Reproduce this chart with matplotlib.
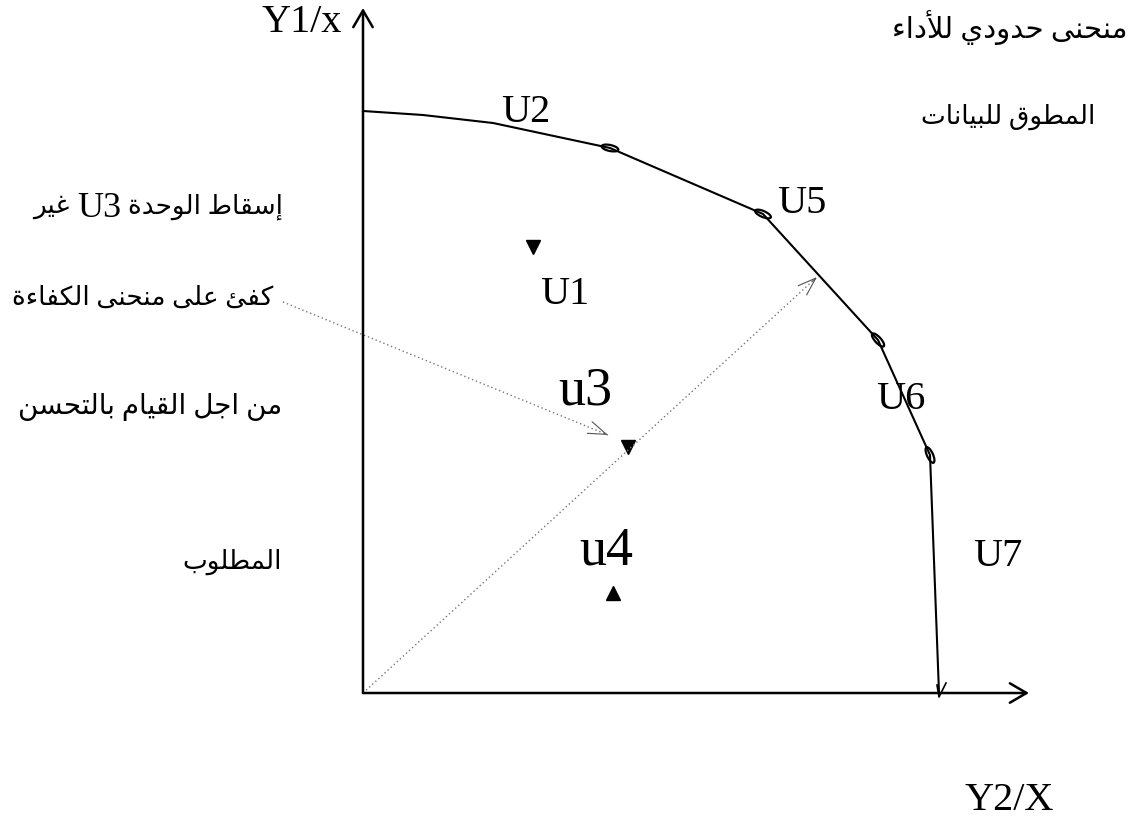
import numpy as np
import matplotlib
matplotlib.use('Agg')
import matplotlib.pyplot as plt
from matplotlib.patches import Ellipse

plt.rcParams['font.family'] = ['Liberation Serif', 'DejaVu Sans']

# ── Data (origin at the axes crossing, 1 unit = 1 pixel) ──────────────────────
frontier_x = [0, 60, 130, 247, 400, 515, 567, 576]
frontier_y = [582, 578, 570, 545, 479, 353, 238, 0]
frontier_names = ['U2', 'U5', 'U6', 'U7']

units_tri_down = {'U1': (170, 446), 'u3': (265, 246)}
units_tri_up = {'u4': (250, 100)}

ray_end = (454, 416)            # projection of u3 onto the frontier
note_start = (-80, 391)         # note arrow, from text to u3
note_end = (245, 258)

ar_lines = [
    'منحنى حدودي للأداء',
    'المطوق للبيانات',
    'إسقاط الوحدة U3 غير',
    'كفئ على منحنى الكفاءة',
    'من اجل القيام بالتحسن',
    'المطلوب',
]

# ── Minimal Arabic shaping (presentation forms + visual order) ────────────────
FORMS = {
    'ء': ('\uFE80', None, None, None),
    'آ': ('\uFE81', '\uFE82', None, None),
    'أ': ('\uFE83', '\uFE84', None, None),
    'إ': ('\uFE87', '\uFE88', None, None),
    'ئ': ('\uFE89', '\uFE8A', '\uFE8B', '\uFE8C'),
    'ا': ('\uFE8D', '\uFE8E', None, None),
    'ب': ('\uFE8F', '\uFE90', '\uFE91', '\uFE92'),
    'ة': ('\uFE93', '\uFE94', None, None),
    'ت': ('\uFE95', '\uFE96', '\uFE97', '\uFE98'),
    'ج': ('\uFE9D', '\uFE9E', '\uFE9F', '\uFEA0'),
    'ح': ('\uFEA1', '\uFEA2', '\uFEA3', '\uFEA4'),
    'د': ('\uFEA9', '\uFEAA', None, None),
    'ر': ('\uFEAD', '\uFEAE', None, None),
    'س': ('\uFEB1', '\uFEB2', '\uFEB3', '\uFEB4'),
    'ط': ('\uFEC1', '\uFEC2', '\uFEC3', '\uFEC4'),
    'ع': ('\uFEC9', '\uFECA', '\uFECB', '\uFECC'),
    'غ': ('\uFECD', '\uFECE', '\uFECF', '\uFED0'),
    'ف': ('\uFED1', '\uFED2', '\uFED3', '\uFED4'),
    'ق': ('\uFED5', '\uFED6', '\uFED7', '\uFED8'),
    'ك': ('\uFED9', '\uFEDA', '\uFEDB', '\uFEDC'),
    'ل': ('\uFEDD', '\uFEDE', '\uFEDF', '\uFEE0'),
    'م': ('\uFEE1', '\uFEE2', '\uFEE3', '\uFEE4'),
    'ن': ('\uFEE5', '\uFEE6', '\uFEE7', '\uFEE8'),
    'و': ('\uFEED', '\uFEEE', None, None),
    'ى': ('\uFEEF', '\uFEF0', None, None),
    'ي': ('\uFEF1', '\uFEF2', '\uFEF3', '\uFEF4'),
}
LAM_ALEF = {'آ': ('\uFEF5', '\uFEF6', None, None), 'أ': ('\uFEF7', '\uFEF8', None, None),
            'إ': ('\uFEF9', '\uFEFA', None, None), 'ا': ('\uFEFB', '\uFEFC', None, None)}


def shape_word(w):
    units, i = [], 0
    while i < len(w):
        if w[i] == 'ل' and i + 1 < len(w) and w[i + 1] in LAM_ALEF:
            units.append(LAM_ALEF[w[i + 1]]); i += 2
        else:
            units.append(FORMS.get(w[i], (w[i], None, None, None))); i += 1
    out = []
    for k, f in enumerate(units):
        prev = units[k - 1] if k > 0 else None
        nxt = units[k + 1] if k + 1 < len(units) else None
        a = prev is not None and prev[2] is not None and f[1] is not None
        b = f[2] is not None and nxt is not None and nxt[1] is not None
        out.append(f[3] if a and b else f[1] if a else f[2] if b else f[0])
    return ''.join(reversed(out))


def is_ar(w):
    return any(c in FORMS for c in w)


# ── Figure ────────────────────────────────────────────────────────────────────
fig = plt.figure(figsize=(11.33, 8.23), dpi=100)
ax = fig.add_axes([0, 0, 1, 1])
ax.set_xlim(-363, 770)
ax.set_ylim(-130, 693)
ax.axis('off')

# axes with open arrowheads
axis_arrow = dict(arrowstyle='->,head_length=1.2,head_width=0.7', lw=1.8,
                  color='black', shrinkA=0, shrinkB=0)
ax.annotate('', xy=(0, 685), xytext=(0, 0), arrowprops=axis_arrow)
ax.annotate('', xy=(666, 0), xytext=(0, 0), arrowprops=axis_arrow)

# frontier
ax.plot(frontier_x, frontier_y, color='black', lw=1.5, solid_joinstyle='round')
for k in range(3, len(frontier_x) - 1):
    ang = np.degrees(np.arctan2(frontier_y[k] - frontier_y[k - 1],
                                frontier_x[k] - frontier_x[k - 1]))
    ax.add_patch(Ellipse((frontier_x[k], frontier_y[k]), 17, 6, angle=ang,
                         fill=False, lw=1.6, color='black'))
ax.plot([frontier_x[-1] - 2, frontier_x[-1], frontier_x[-1] + 7],
        [frontier_y[-1] + 8, frontier_y[-1] - 4, frontier_y[-1] + 10],
        color='black', lw=1.2)

# units
for name, (x, y) in units_tri_down.items():
    ax.plot(x, y, marker='v', ms=10, color='black', ls='none')
for name, (x, y) in units_tri_up.items():
    ax.plot(x, y, marker='^', ms=10, color='black', ls='none')

# dotted projection ray and note arrow
head = dict(arrowstyle='->,head_length=1.3,head_width=0.45', lw=0.8,
            color='#555555', shrinkA=0, shrinkB=0)
for (x0, y0), (x1, y1) in [((0, 0), ray_end), (note_start, note_end)]:
    ax.plot([x0, x1], [y0, y1], ls=(0, (1, 2)), lw=1.0, color='#777777')
    ax.annotate('', xy=(x1, y1), xytext=(x1 - (x1 - x0) * 0.01, y1 - (y1 - y0) * 0.01),
                arrowprops=head)

# labels
lab = dict(fontsize=29, ha='center', va='center', family='Liberation Serif')
ax.text(-61, 671, 'Y1/x', **lab)
ax.text(646, -108, 'Y2/X', **lab)
ax.text(163, 581, frontier_names[0], **lab)
ax.text(439, 490, frontier_names[1], **lab)
ax.text(538, 294, frontier_names[2], **lab)
ax.text(635, 136, frontier_names[3], **lab)
ax.text(202, 399, 'U1', **lab)
ax.text(222, 302, 'u3', fontsize=39, ha='center', va='center', family='Liberation Serif')
ax.text(243, 142, 'u4', fontsize=39, ha='center', va='center', family='Liberation Serif')

# Arabic notes: words laid out right to left, Latin words in the larger serif
ar_pos = [(765, 665), (732, 576), (-80, 486), (-90, 395), (-81, 286), (-81, 131)]
ar_size = [21, 19, 19, 19, 20, 19]
renderer = fig.canvas.get_renderer()
inv = ax.transData.inverted()
for s, (x, y), fs in zip(ar_lines, ar_pos, ar_size):
    # group consecutive Arabic words into runs, keep Latin words as own runs
    runs = []
    for w in s.split(' '):
        if runs and is_ar(w) and is_ar(runs[-1][-1]):
            runs[-1].append(w)
        else:
            runs.append([w])
    xr = x
    for run in runs:
        if is_ar(run[0]):
            txt = ' '.join(shape_word(w) for w in reversed(run))
            t = ax.text(xr, y, txt, fontsize=fs, ha='right', va='center',
                        family=['Liberation Serif', 'DejaVu Sans'])
        else:
            t = ax.text(xr, y - 1, ' '.join(run), fontsize=26, ha='right', va='center',
                        family='Liberation Serif')
        bb = t.get_window_extent(renderer)
        xr = inv.transform((bb.x0, 0))[0] - 7

fig.savefig('out.png', dpi=100, facecolor='white')
